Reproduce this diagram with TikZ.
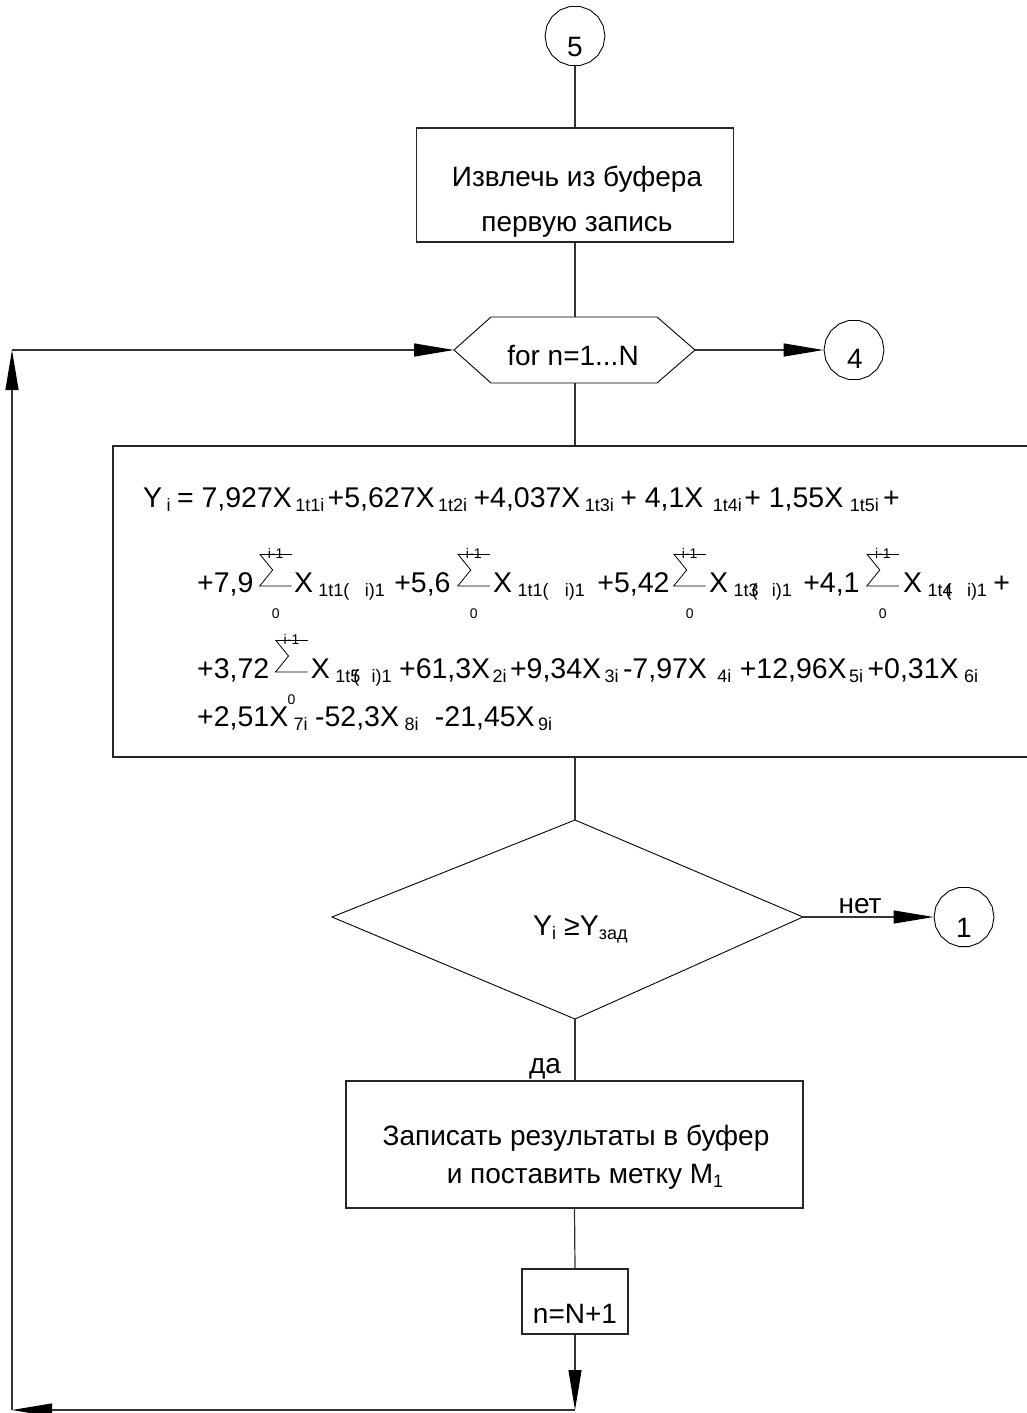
\documentclass[tikz,border=0pt]{standalone}
\usepackage{fontspec}
\setmainfont{Liberation Sans}
\usetikzlibrary{arrows.meta,shapes.geometric}

\newcommand\fsz[1]{\fontsize{#1}{#1}\selectfont}
\newcommand\lo[1]{\raisebox{-4pt}{\fsz{18}#1}}

\tikzset{
  wire/.style={draw=black!80, line width=1.2pt},
  blk/.style={draw=black!85, line width=1.2pt, rectangle, inner sep=0pt},
  outline/.style={draw=black, line width=0.9pt},
  conn/.style={outline, regular polygon, regular polygon sides=18, minimum size=60pt, inner sep=0pt},
  arr/.style={wire, -{Triangle[length=40pt,width=13pt,color=black]}},
  txt/.style={anchor=base, inner sep=0pt, font=\fsz{28}},
  frag/.style={anchor=base west, inner sep=0pt, font=\fsz{28.5}},
  lim/.style={anchor=base, inner sep=0pt, font=\fsz{14}},
  sigline/.style={draw=black, line width=0.8pt},
  stub/.style={inner sep=0pt, minimum size=0pt},
}

% first fragment of a formula line: name, x, baseline, text
\newcommand\Mstart[4]{\node[frag] (#1) at (#2,#3) {#4};}
% next fragment: name, previous fragment, gap, text
\newcommand\M[4]{\node[frag] (#1) at ([xshift=#3pt]#2.base east) {#4};}
% lowered index after the previous fragment
\newcommand\Sb[4]{\node[frag] (#1) at ([xshift=#3pt]#2.base east) {\lo{#4}};}
% summation sign drawn with thin strokes: name, previous fragment, gap
\newcommand\Sig[3]{%
  \coordinate (#1o) at ([xshift=#3pt]#2.base east);
  \draw[sigline] ([yshift=38pt]#1o) -- ++(32,0);
  \draw[sigline] ([yshift=38pt]#1o) -- ++(13,16) -- ++(-13,16) -- ++(32,0);
  \node[lim] (#1u) at ([xshift=16pt,yshift=34pt]#1o) {i-1};
  \node[lim] (#1l) at ([xshift=16pt,yshift=-26pt]#1o) {0};
  \node[stub] (#1) at ([xshift=32pt]#1o) {};
}
% index tail
\newcommand\ipart{i)1}

\begin{document}
\begin{tikzpicture}[x=1pt,y=-1pt]
\useasboundingbox (0,0) rectangle (1027,1413);
\clip (0,0) rectangle (1027,1413);

% ---- connector 5 and first block
\node[conn] (c5) at (575,36) {};
\node[txt] (c5t) at (575,57) {5};
\node[blk, minimum width=317pt, minimum height=114pt] (b1) at (575,185) {};
\node[txt] (b1a) at (577,186) {Извлечь из буфера};
\node[txt] (b1b) at (577,231) {первую запись};

% ---- loop header (hexagon)
\coordinate (hL) at (454,350);
\coordinate (hR) at (695,350);
\coordinate (hT) at (575,317);
\coordinate (hB) at (575,383);
\draw[outline] (hL) -- (491,317) -- (657,317) -- (hR) -- (657,383) -- (491,383) -- cycle;
\node[txt] (hext) at (573,365) {for n=1...N};
\node[conn] (c4) at (854,350) {};
\node[txt] (c4t) at (855,368) {4};

% ---- formula block
\node[blk, minimum width=917pt, minimum height=311pt] (fb) at (571.5,601.5) {};

% line 1
\Mstart{l1a}{143}{507}{Y}
\Sb{l1b}{l1a}{4}{i}
\M{l1c}{l1b}{6}{= 7,927X}
\Sb{l1d}{l1c}{3}{1t1i}
\M{l1e}{l1d}{3}{+5,627X}
\Sb{l1f}{l1e}{3}{1t2i}
\M{l1g}{l1f}{6}{+4,037X}
\Sb{l1h}{l1g}{4}{1t3i}
\M{l1i}{l1h}{6}{+ 4,1X}
\Sb{l1j}{l1i}{9}{1t4i}
\M{l1k}{l1j}{2}{+ 1,55X}
\Sb{l1l}{l1k}{6}{1t5i}
\M{l1m}{l1l}{4}{+}

% line 2
\Mstart{l2a}{197}{592}{+7,9}
\Sig{s1}{l2a}{6}
\M{l2b}{s1}{2}{X}
\Sb{l2c}{l2b}{5}{1t1(}
\Sb{l2d}{l2c}{15}{\ipart}
\M{l2e}{l2d}{9}{+5,6}
\Sig{s2}{l2e}{7}
\M{l2f}{s2}{3}{X}
\Sb{l2g}{l2f}{5}{1t1(}
\Sb{l2h}{l2g}{16}{\ipart}
\M{l2i}{l2h}{12}{+5,42}
\Sig{s3}{l2i}{4}
\M{l2j}{s3}{3}{X}
\Sb{l2k}{l2j}{5}{1t\rlap{3}\kern3pt(}
\Sb{l2l}{l2k}{14}{\ipart}
\M{l2m}{l2l}{11}{+4,1}
\Sig{s4}{l2m}{7}
\M{l2n}{s4}{4}{X}
\Sb{l2o}{l2n}{5}{1t\rlap{4}\kern3pt(}
\Sb{l2p}{l2o}{15}{\ipart}
\M{l2q}{l2p}{6}{+}

% line 3
\Mstart{l3a}{197}{678}{+3,72}
\Sig{s5}{l3a}{6}
\M{l3b}{s5}{3}{X}
\Sb{l3c}{l3b}{5}{1t\rlap{5}\kern3pt(}
\Sb{l3d}{l3c}{12}{\ipart}
\M{l3e}{l3d}{7}{+61,3X}
\Sb{l3f}{l3e}{2}{2i}
\M{l3g}{l3f}{3}{+9,34X}
\Sb{l3h}{l3g}{3}{3i}
\M{l3i}{l3h}{4}{-7,97X}
\Sb{l3j}{l3i}{10}{4i}
\M{l3k}{l3j}{8}{+12,96X}
\Sb{l3l}{l3k}{2}{5i}
\M{l3m}{l3l}{4}{+0,31X}
\Sb{l3n}{l3m}{5}{6i}

% line 4
\Mstart{l4a}{197}{726}{+2,51X}
\Sb{l4b}{l4a}{5}{7i}
\M{l4c}{l4b}{7}{-52,3X}
\Sb{l4d}{l4c}{5}{8i}
\M{l4e}{l4d}{16}{-21,45X}
\Sb{l4f}{l4e}{3}{9i}

% ---- condition
\coordinate (dT) at (575,820);
\coordinate (dL) at (332,917);
\coordinate (dR) at (803,917);
\coordinate (dB) at (575,1019);
\draw[outline] (dT) -- (dR) -- (dB) -- (dL) -- cycle;
\node[frag] (dtx) at (533,935) {Y\lo{i} ≥Y\lo{зад}};
\node[conn] (c1) at (964,917) {};
\node[txt] (c1t) at (964,937) {1};
\node[txt] (no) at (860,913) {нет};
\node[txt] (yes) at (545,1073) {да};

% ---- output blocks
\node[blk, minimum width=457pt, minimum height=127pt] (b2) at (574.5,1144.5) {};
\node[txt] (b2a) at (576,1145) {Записать результаты в буфер};
\node[txt] (b2b) at (585,1183) {и поставить метку M\lo{1}};
\node[blk, minimum width=106pt, minimum height=65pt] (b3) at (575,1301.5) {};
\node[txt] (b3a) at (575,1323) {n=N+1};

% ---- return path corners
\coordinate (bR) at (575,1410);
\coordinate (bL) at (12,1410);
\coordinate (tL) at (12,350);

% ---- connectors
\draw[wire] (c5) -- (b1.north);
\draw[wire] (b1.south) -- (hT);
\draw[arr] (hR) -- (c4);
\draw[wire] (hB) -- (hB |- fb.north);
\draw[wire] (hB |- fb.south) -- (dT);
\draw[arr] (dR) -- (c1);
\draw[wire] (dB) -- (dB |- b2.north);
\draw[wire] (b2.south) -- (b3.north);
\draw[arr] (b3.south) -- (bR);
\draw[arr] (bR) -- (bL);
\draw[arr] (bL) -- (tL);
\draw[arr] (tL) -- (hL);
\end{tikzpicture}
\end{document}
